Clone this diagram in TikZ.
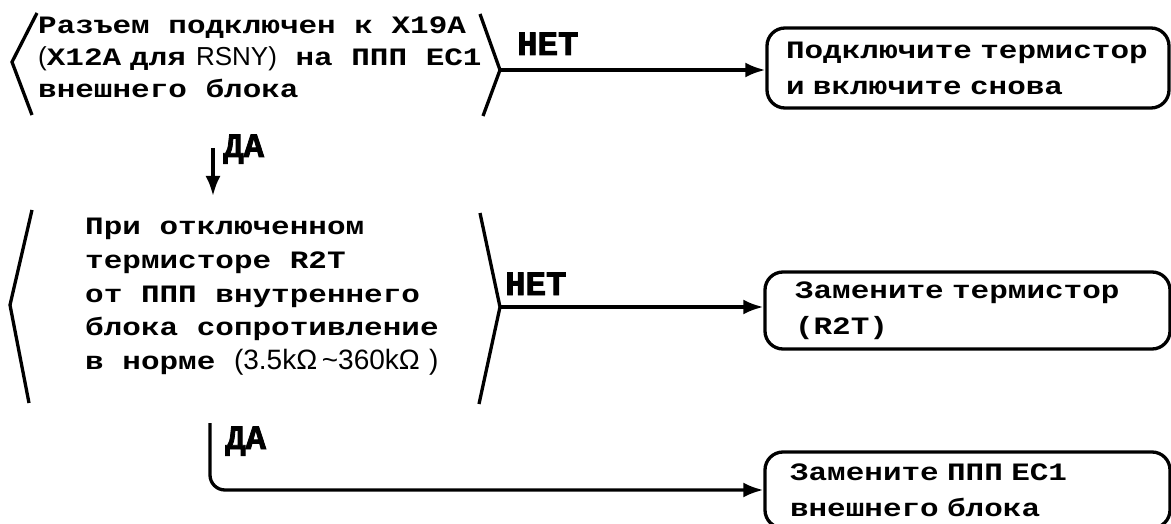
\documentclass[tikz,border=0pt]{standalone}
\usepackage{fontspec}
\usetikzlibrary{arrows.meta}
\newfontfamily\monoB[FakeStretch=1.24]{Liberation Mono Bold}
\newfontfamily\lblfont[FakeBold=2.5]{Liberation Mono Bold}
\newfontfamily\sansA{Liberation Sans}
\newcommand\sansbit[2][26]{{\sansA\fontsize{#1}{32}\selectfont #2}}
\tikzset{
  ln/.style={line width=3.3pt},
  arr/.style={ln, -{Latex[length=20pt,width=15pt]}},
  box/.style={draw, ln, rounded corners=18pt, inner sep=0pt, align=left,
              font=\monoB\fontsize{25}{36}\selectfont},
  dtext/.style={inner sep=0pt, align=left},
  lbl/.style={inner sep=0pt, font=\lblfont\fontsize{34}{40}\selectfont}
}
\begin{document}
\begin{tikzpicture}[x=1pt,y=-1pt]
\useasboundingbox (0,0) rectangle (1171,524);
% decision 1
\node[dtext, anchor=north west, font=\monoB\fontsize{25}{32}\selectfont] (d1) at (38,17)
  {Разъем подключен к X19A\\\sansbit{(}X12A\hspace{9pt}для\hspace{10pt}\sansbit{RSNY)} на ППП EC1\\внешнего блока};
\draw[ln] (37,13) -- (12,62) -- (32,115);
\draw[ln] (480,14) -- (500,70) -- (483,116);
\coordinate (d1tip) at (500,70);
% box 1
\node[box, minimum width=402pt, minimum height=80pt, text width=364pt] (b1) at (968,68)
  {Подключите термистор\\и включите снова};
\draw[arr] (d1tip) -- (d1tip -| b1.west);
\node[lbl, anchor=base west] (no1) at (517,55) {НЕТ};
% yes 1
\coordinate (y1s) at (213,148);
\coordinate (y1e) at (213,196);
\draw[arr] (y1s) -- (y1e);
\node[lbl, anchor=base west] (yes1) at (223,157) {ДА};
% decision 2
\node[dtext, anchor=north west, font=\monoB\fontsize{25}{33.75}\selectfont] (d2) at (85,218)
  {При отключенном\\термисторе R2T\\от ППП внутреннего\\блока сопротивление\\в норме \sansbit[28]{(3.5kΩ\,\textasciitilde 360kΩ\,\,)}};
\draw[ln] (32,210) -- (10,305) -- (29,403);
\draw[ln] (480,213) -- (500,307) -- (479,404);
\coordinate (d2tip) at (500,307);
% box 2
\node[box, minimum width=405pt, minimum height=77pt, text width=345pt] (b2) at (967.5,310.5)
  {Замените термистор\\(R2T)};
\draw[arr] (d2tip) -- (d2tip -| b2.west);
\node[lbl, anchor=base west] (no2) at (505,295) {НЕТ};
% box 3
\node[box, minimum width=405pt, minimum height=76pt, text width=355pt] (b3) at (967.5,490)
  {Замените ППП EC1\\внешнего блока};
\coordinate (y2s) at (210,423);
\draw[arr, rounded corners=15pt] (y2s) |- (b3.west);
\node[lbl, anchor=base west] (yes2) at (225,449) {ДА};
\end{tikzpicture}
\end{document}
